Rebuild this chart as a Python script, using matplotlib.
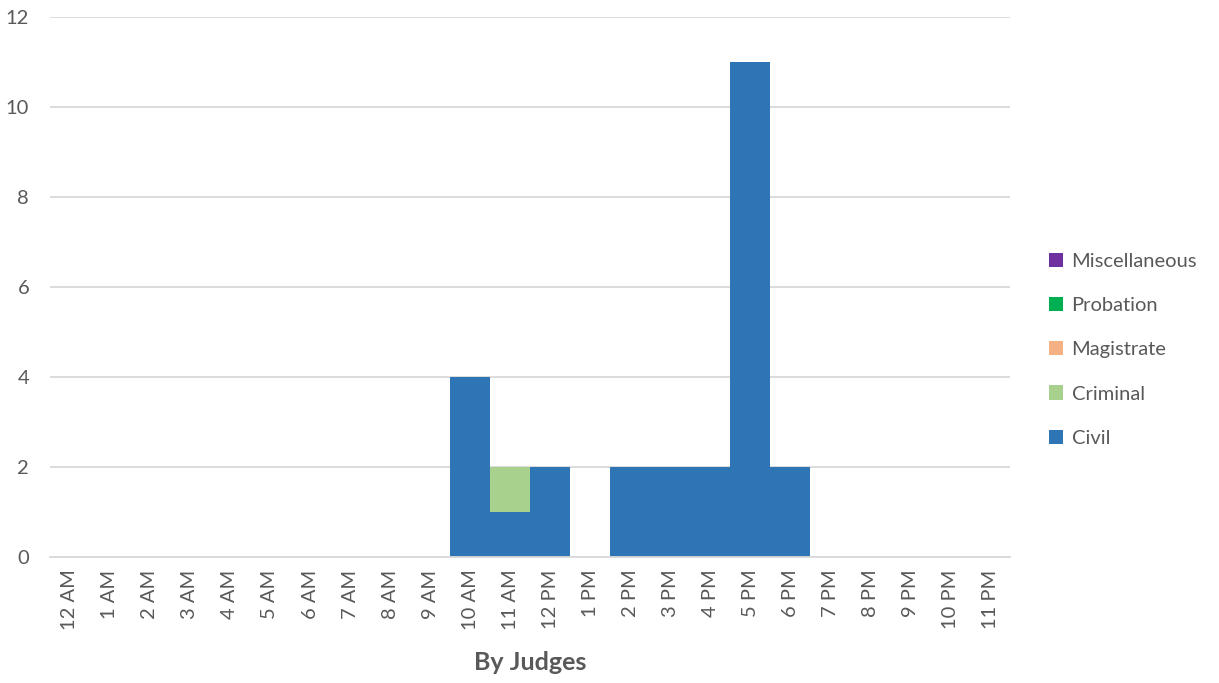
import matplotlib.pyplot as plt
import numpy as np

# hours of the day and counts per case type
hours = ["12 AM", "1 AM", "2 AM", "3 AM", "4 AM", "5 AM", "6 AM", "7 AM", "8 AM", "9 AM",
         "10 AM", "11 AM", "12 PM", "1 PM", "2 PM", "3 PM", "4 PM", "5 PM", "6 PM", "7 PM",
         "8 PM", "9 PM", "10 PM", "11 PM"]
civil = [0, 0, 0, 0, 0, 0, 0, 0, 0, 0, 4, 1, 2, 0, 2, 2, 2, 11, 2, 0, 0, 0, 0, 0]
criminal = [0, 0, 0, 0, 0, 0, 0, 0, 0, 0, 0, 1, 0, 0, 0, 0, 0, 0, 0, 0, 0, 0, 0, 0]
magistrate = [0] * 24
probation = [0] * 24
miscellaneous = [0] * 24

series = [("Civil", civil, "#2E75B6"),
          ("Criminal", criminal, "#A9D18E"),
          ("Magistrate", magistrate, "#F4B183"),
          ("Probation", probation, "#00B050"),
          ("Miscellaneous", miscellaneous, "#7030A0")]

plt.rcParams['font.family'] = ['Lato', 'DejaVu Sans']

fig = plt.figure(figsize=(12.19, 6.83), dpi=100)
ax = fig.add_axes([0.041, 0.1845, 0.7876, 0.7905])

x = np.arange(len(hours))
bottom = np.zeros(len(hours))
handles = []
for name, vals, col in series:
    vals = np.array(vals, dtype=float)
    b = ax.bar(x, vals, width=1.0, bottom=bottom, color=col, label=name, zorder=2, linewidth=0)
    handles.append(b)
    bottom += vals

ax.set_xlim(-0.5, len(hours) - 0.5)
ax.set_ylim(0, 12)
ax.set_yticks(range(0, 13, 2))
ax.yaxis.grid(True, color="#d9d9d9", linewidth=1.3, zorder=0)
ax.set_axisbelow(True)
for s in ["top", "right", "left"]:
    ax.spines[s].set_visible(False)
ax.spines["bottom"].set_color("#d9d9d9")
ax.spines["bottom"].set_linewidth(1.3)
ax.tick_params(axis="both", length=0, colors="#595959", labelsize=14.5)
ax.tick_params(axis="y", pad=15)
ax.set_xticks(x)
ax.set_xticklabels(hours, rotation=90)
ax.tick_params(axis="x", pad=9)

ax.set_xlabel("By Judges", fontsize=18, fontweight="bold", color="#595959", labelpad=15)

leg = fig.legend(handles[::-1], [s[0] for s in series][::-1],
                 loc="center left", bbox_to_anchor=(0.846, 0.488), frameon=False,
                 fontsize=14.5, handlelength=0.7, handleheight=0.7, handletextpad=0.4,
                 labelspacing=1.35, labelcolor="#595959")

fig.savefig("out.png", dpi=100)
